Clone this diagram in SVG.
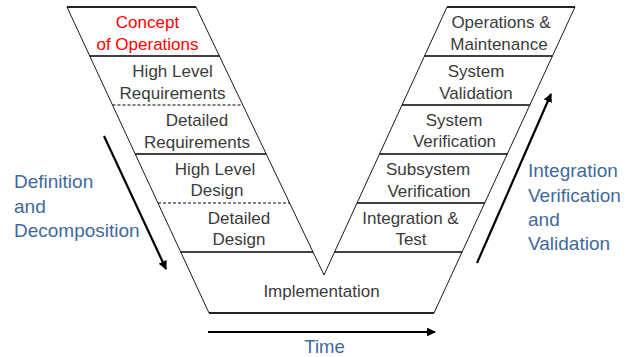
<svg xmlns="http://www.w3.org/2000/svg" width="632" height="357" viewBox="0 0 632 357">
<defs>
<style>
.outline{fill:none;stroke:#000;stroke-width:0.9}
.div{stroke:#000;stroke-width:1.3;fill:none}
.dash{stroke:#000;stroke-width:1;stroke-dasharray:3 2;fill:none}
.t{font-family:"Liberation Sans",Arial,sans-serif;font-size:17px;fill:#3b3b3b;text-anchor:middle}
.red{fill:#ff0000}
.b{font-family:"Liberation Sans",Arial,sans-serif;font-size:19px;fill:#41699c}
.arr{stroke:#000;stroke-width:2.2;fill:none}
</style>
<marker id="ah" viewBox="0 0 10 10" refX="9" refY="5" markerWidth="4" markerHeight="4" orient="auto" markerUnits="strokeWidth">
<path d="M0,0 L10,5 L0,10 Z" fill="#000"/>
</marker>
</defs>
<rect width="632" height="357" fill="#fff"/>
<g id="outline">
<path class="outline" d="M67,7 L196,7 L324,275 L447,7 L575,7 L434,313 L209,313 Z"/>
</g>
<g id="concept-of-operations">
<text class="t red" x="147.5" y="28">Concept</text>
<text class="t red" x="147.5" y="50">of Operations</text>
<line class="div" x1="89.7" y1="56" x2="219.4" y2="56"/>
</g>
<g id="high-level-requirements">
<text class="t" x="172.5" y="77">High Level</text>
<text class="t" x="172.5" y="99">Requirements</text>
<line class="dash" x1="112.5" y1="105" x2="242.8" y2="105"/>
</g>
<g id="detailed-requirements">
<text class="t" x="197" y="126">Detailed</text>
<text class="t" x="197" y="148">Requirements</text>
<line class="div" x1="135.2" y1="154" x2="266.2" y2="154"/>
</g>
<g id="high-level-design">
<text class="t" x="215" y="175">High Level</text>
<text class="t" x="217" y="196">Design</text>
<line class="dash" x1="158" y1="203" x2="289.6" y2="203"/>
</g>
<g id="detailed-design">
<text class="t" x="239" y="224">Detailed</text>
<text class="t" x="239" y="245">Design</text>
<line class="div" x1="180.7" y1="252" x2="313" y2="252"/>
</g>
<g id="implementation">
<text class="t" x="321.5" y="297">Implementation</text>
</g>
<g id="integration-test">
<text class="t" x="410.5" y="224">Integration &amp;</text>
<text class="t" x="411" y="245">Test</text>
<line class="div" x1="334.5" y1="252" x2="462.1" y2="252"/>
</g>
<g id="subsystem-verification">
<text class="t" x="428" y="175">Subsystem</text>
<text class="t" x="429" y="197">Verification</text>
<line class="div" x1="357" y1="203" x2="484.7" y2="203"/>
</g>
<g id="system-verification">
<text class="t" x="454" y="126">System</text>
<text class="t" x="454.5" y="147">Verification</text>
<line class="div" x1="379.5" y1="154" x2="507.3" y2="154"/>
</g>
<g id="system-validation">
<text class="t" x="476" y="77">System</text>
<text class="t" x="476" y="99">Validation</text>
<line class="div" x1="402" y1="105" x2="529.8" y2="105"/>
</g>
<g id="operations-maintenance">
<text class="t" x="501" y="28">Operations &amp;</text>
<text class="t" x="499" y="50">Maintenance</text>
<line class="div" x1="424.5" y1="56" x2="552.4" y2="56"/>
</g>
<g id="top-edges">
<line class="div" x1="67" y1="7" x2="196" y2="7"/>
<line class="div" x1="447" y1="7" x2="575" y2="7"/>
<line class="div" x1="209" y1="313" x2="434" y2="313"/>
</g>
<g id="connectors">
<line class="arr" x1="104" y1="136" x2="166" y2="269" marker-end="url(#ah)"/>
<line class="arr" x1="477" y1="263" x2="551" y2="94" marker-end="url(#ah)"/>
<line class="arr" x1="208" y1="332" x2="435" y2="332" marker-end="url(#ah)"/>
</g>
<g id="labels">
<text class="b" x="14" y="188">Definition</text>
<text class="b" x="14" y="213">and</text>
<text class="b" x="14" y="237">Decomposition</text>
<text class="b" x="528" y="177">Integration</text>
<text class="b" x="528" y="202">Verification</text>
<text class="b" x="528" y="226">and</text>
<text class="b" x="528" y="250">Validation</text>
<text class="b" x="324.5" y="353" text-anchor="middle" style="font-size:18.5px">Time</text>
</g>
</svg>
